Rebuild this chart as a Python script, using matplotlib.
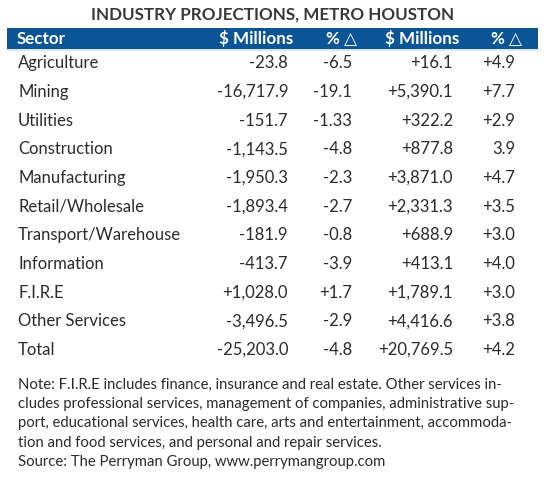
import matplotlib
matplotlib.use("Agg")
import matplotlib.pyplot as plt
from matplotlib.patches import Rectangle

title = "INDUSTRY PROJECTIONS, METRO HOUSTON"
headers = ["Sector", "$ Millions", "% \u25B3", "$ Millions", "% \u25B3"]
sectors = ["Agriculture", "Mining", "Utilities", "Construction", "Manufacturing",
           "Retail/Wholesale", "Transport/Warehouse", "Information", "F.I.R.E",
           "Other Services", "Total"]
millions_1 = ["-23.8", "-16,717.9", "-151.7", "-1,143.5", "-1,950.3", "-1,893.4",
              "-181.9", "-413.7", "+1,028.0", "-3,496.5", "-25,203.0"]
pct_1 = ["-6.5", "-19.1", "-1.33", "-4.8", "-2.3", "-2.7", "-0.8", "-3.9", "+1.7",
         "-2.9", "-4.8"]
millions_2 = ["+16.1", "+5,390.1", "+322.2", "+877.8", "+3,871.0", "+2,331.3",
              "+688.9", "+413.1", "+1,789.1", "+4,416.6", "+20,769.5"]
pct_2 = ["+4.9", "+7.7", "+2.9", "3.9", "+4.7", "+3.5", "+3.0", "+4.0", "+3.0",
         "+3.8", "+4.2"]
note_lines = [
    "Note: F.I.R.E includes finance, insurance and real estate. Other services in-",
    "cludes professional services, management of companies, administrative sup-",
    "port, educational services, health care, arts and entertainment, accommoda-",
    "tion and food services, and personal and repair services.",
    "Source: The Perryman Group, www.perrymangroup.com",
]

W, H = 548, 478
fig = plt.figure(figsize=(W / 100, H / 100), dpi=100)
fig.patch.set_facecolor("white")
FONT = ["Lato", "DejaVu Sans"]
TXT = "#2b2b2b"
BLUE = "#0b5597"
renderer = fig.canvas.get_renderer()


def fx(x):
    return x / W


def fy(y):
    return 1 - y / H


def fitted_size(text, target_px, weight="normal", base=10.0):
    t = fig.text(0, 0, text, fontsize=base, fontweight=weight, family=FONT)
    w = t.get_window_extent(renderer=renderer).width
    t.remove()
    return base * target_px / w


title_fs = fitted_size(title, 362, "bold")
head_fs = fitted_size("$ Millions", 74, "bold")
row_fs = fitted_size("Transport/Warehouse", 164)
note_fs = fitted_size(note_lines[0], 483)

# Title
fig.text(fx(273), fy(15), title, ha="center", va="center", fontsize=title_fs,
         fontweight="bold", color="#383838", family=FONT)

# Header bar
fig.patches.append(Rectangle((fx(7), fy(49)), fx(538) - fx(7), fy(27.5) - fy(49),
                             transform=fig.transFigure, facecolor=BLUE,
                             edgecolor="none"))
fig.patches.append(Rectangle((fx(7), fy(50.5)), fx(538) - fx(7), 1.2 / H,
                             transform=fig.transFigure, facecolor="#d9eaf6",
                             edgecolor="none"))

head_x = [17, 293, 357, 459, 522]
col_x = [18, 288, 352, 453, 515]
col_ha = ["left", "right", "right", "right", "right"]
for x, ha, h in zip(head_x, col_ha, headers):
    fig.text(fx(x), fy(38.5), h, ha=ha, va="center", fontsize=head_fs,
             fontweight="bold", color="white", family=FONT)

row_y0, row_dy = 63.3, 28.67
for i in range(len(sectors)):
    y = row_y0 + i * row_dy
    vals = [sectors[i], millions_1[i], pct_1[i], millions_2[i], pct_2[i]]
    for x, ha, v in zip(col_x, col_ha, vals):
        fig.text(fx(x), fy(y), v, ha=ha, va="center", fontsize=row_fs,
                 color=TXT, family=FONT)

note_y0, note_dy = 385, 19.2
for i, line in enumerate(note_lines):
    fig.text(fx(18), fy(note_y0 + i * note_dy), line, ha="left", va="center",
             fontsize=note_fs, color=TXT, family=FONT)

fig.savefig("out.png", dpi=100, facecolor="white")
